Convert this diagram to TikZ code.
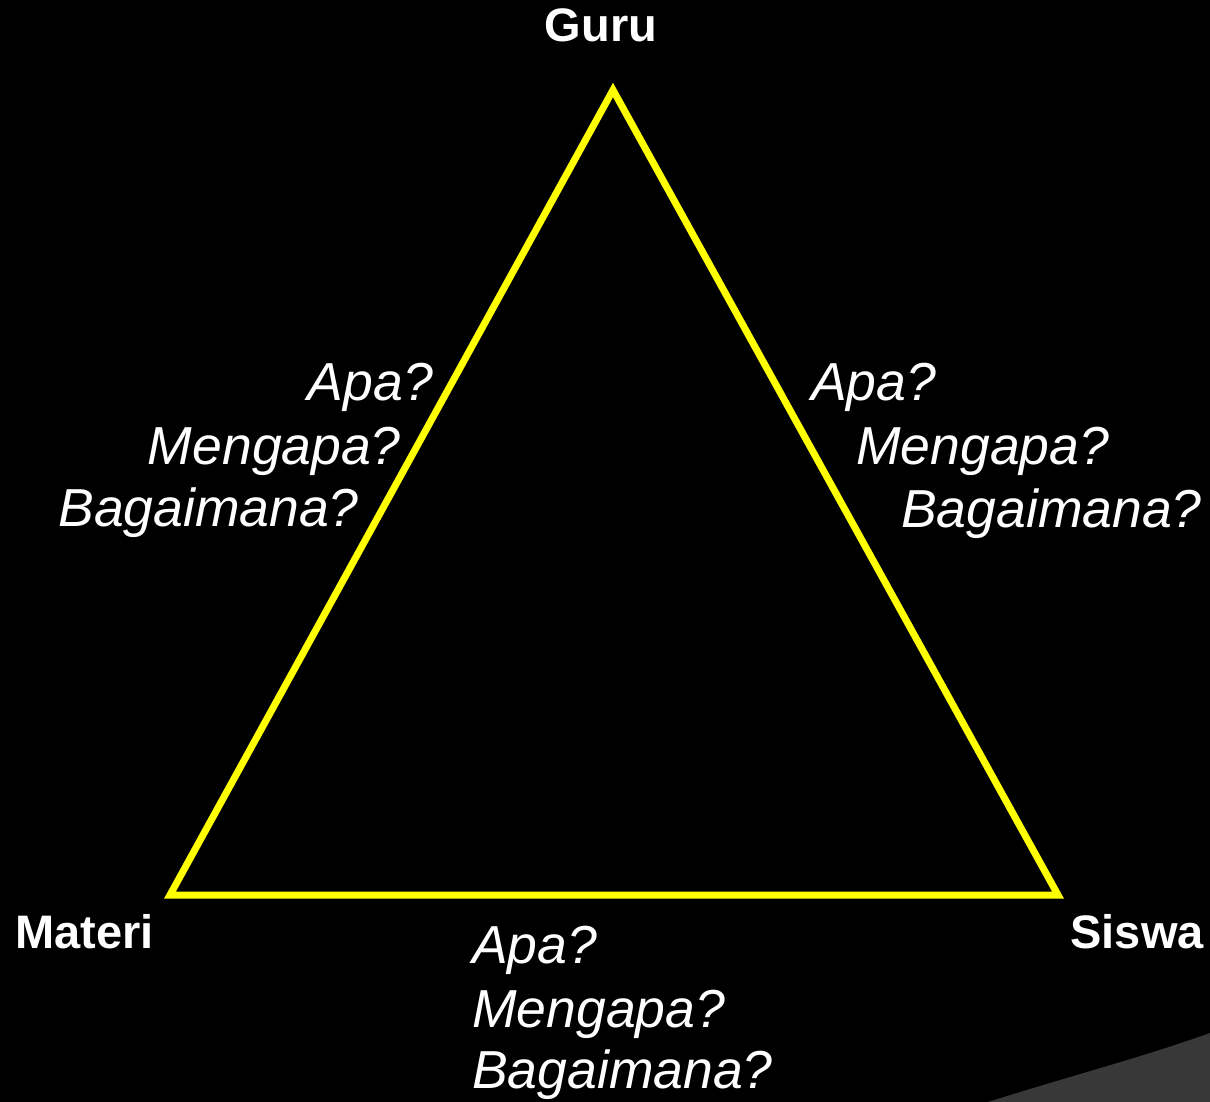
\documentclass[tikz,border=0pt]{standalone}
\usepackage{fontspec}
\setmainfont{Liberation Sans}
\usetikzlibrary{calc}
\definecolor{ylw}{HTML}{FFFF00}
\definecolor{swoosh}{HTML}{383838}

\begin{document}
\begin{tikzpicture}[
  x=1pt, y=-1pt,
  side/.style={ylw, line width=7pt, line join=miter},
  corner/.style={white, font=\fontsize{47}{56}\selectfont\bfseries, inner sep=0pt},
  ask/.style={white, font=\fontsize{53.5}{64}\selectfont\itshape, inner sep=0pt},
]

% ══════════════════════════════════════════════════════
% Background
% ══════════════════════════════════════════════════════
\fill[black] (0,0) rectangle (1210,1102);
\useasboundingbox (0,0) rectangle (1210,1102);
\fill[swoosh] (988,1102) .. controls (1070,1076) and (1140,1058) .. (1210,1033)
  -- (1210,1102) -- cycle;

% ══════════════════════════════════════════════════════
% Triangle corners
% ══════════════════════════════════════════════════════
\coordinate (top)   at (613,90);
\coordinate (left)  at (170,895);
\coordinate (right) at (1058,895);

\draw[side] (top) -- (left) -- (right) -- cycle;

% Corner labels
\node[corner, anchor=base] (guru)   at (601,42)  {Guru};
\node[corner, anchor=base west] (materi) at (15,948)  {Materi};
\node[corner, anchor=base east] (siswa)  at (1204,948) {Siswa};

% ══════════════════════════════════════════════════════
% Questions along the left side
% ══════════════════════════════════════════════════════
\node[ask, anchor=base east] (apaL)  at (433,400) {Apa?};
\node[ask, anchor=base east] (mengL) at (401,464) {Mengapa?};
\node[ask, anchor=base east] (bagL)  at (359,526) {Bagaimana?};

% ══════════════════════════════════════════════════════
% Questions along the right side
% ══════════════════════════════════════════════════════
\node[ask, anchor=base west] (apaR)  at (811,400) {Apa?};
\node[ask, anchor=base west] (mengR) at (856,464) {Mengapa?};
\node[ask, anchor=base west] (bagR)  at (901,527) {Bagaimana?};

% ══════════════════════════════════════════════════════
% Questions under the base
% ══════════════════════════════════════════════════════
\node[ask, anchor=base west] (apaB)  at (472,963)  {Apa?};
\node[ask, anchor=base west] (mengB) at (472,1027) {Mengapa?};
\node[ask, anchor=base west] (bagB)  at (472,1088) {Bagaimana?};

\end{tikzpicture}
\end{document}
